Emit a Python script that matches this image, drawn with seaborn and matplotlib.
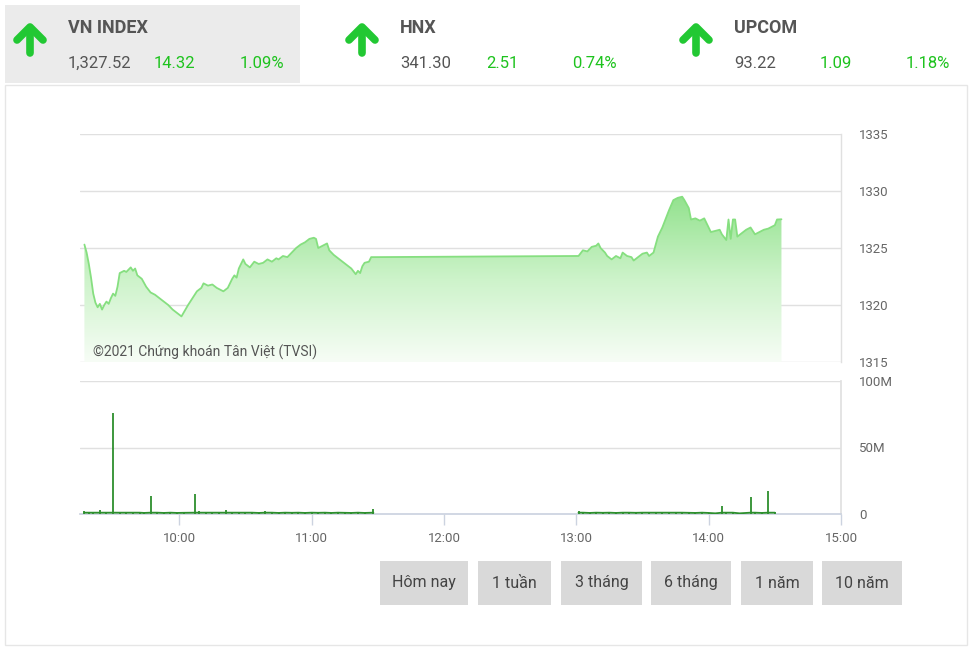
import numpy as np
import pandas as pd
import matplotlib
matplotlib.use("Agg")
import matplotlib.pyplot as plt
import seaborn as sns
from matplotlib.patches import Rectangle, Polygon
from matplotlib.lines import Line2D
from matplotlib.colors import LinearSegmentedColormap

# ---------------- data ----------------
index_names = ["VN INDEX", "HNX", "UPCOM"]
index_values = ["1,327.52", "341.30", "93.22"]
index_changes = ["14.32", "2.51", "1.09"]
index_pcts = ["1.09%", "0.74%", "1.18%"]

price_times = [
    "09:17", "09:18", "09:19", "09:20", "09:21", "09:22", "09:23", "09:24", "09:25", "09:26",
    "09:27", "09:28", "09:29", "09:30", "09:31", "09:32", "09:33", "09:35", "09:36", "09:38",
    "09:39", "09:40", "09:41", "09:43", "09:45", "09:47", "09:49", "09:51", "09:53", "09:55",
    "09:57", "09:59", "10:01", "10:04", "10:06", "10:08", "10:10", "10:11", "10:13", "10:15",
    "10:17", "10:19", "10:20", "10:22", "10:24", "10:25", "10:26", "10:27", "10:29", "10:30",
    "10:32", "10:34", "10:36", "10:38", "10:40", "10:42", "10:44", "10:45", "10:47", "10:49",
    "10:51", "10:53", "10:55", "10:57", "10:59", "11:01", "11:02", "11:03", "11:05", "11:07",
    "11:08", "11:10", "11:12", "11:14", "11:16", "11:18", "11:20", "11:21", "11:22", "11:23",
    "11:24", "11:26", "11:27", "11:29", "13:01", "13:03", "13:05", "13:07", "13:09", "13:10",
    "13:11", "13:13", "13:14", "13:16", "13:18", "13:20", "13:21", "13:23", "13:25", "13:26",
    "13:28", "13:30", "13:32", "13:33", "13:35", "13:36", "13:37", "13:39", "13:41", "13:42",
    "13:44", "13:46", "13:48", "13:49", "13:51", "13:52", "13:54", "13:56", "13:58", "14:00",
    "14:01", "14:03", "14:05", "14:06", "14:08", "14:09", "14:10", "14:11", "14:12", "14:13",
    "14:15", "14:17", "14:19", "14:21", "14:23", "14:25", "14:27", "14:29", "14:30", "14:31",
    "14:33",
]
price_values = [
    1325.3, 1324.6, 1323.6, 1322.4, 1321.0, 1320.2, 1319.8, 1320.1, 1319.6, 1320.0,
    1320.3, 1320.1, 1320.6, 1321.0, 1320.8, 1321.6, 1322.8, 1323.0, 1322.9, 1323.3,
    1323.0, 1323.2, 1322.6, 1322.3, 1321.6, 1321.1, 1320.9, 1320.6, 1320.3, 1320.0,
    1319.6, 1319.3, 1319.0, 1320.0, 1320.6, 1321.2, 1321.5, 1321.9, 1321.7, 1321.8,
    1321.5, 1321.3, 1321.2, 1321.5, 1322.3, 1322.6, 1322.4, 1323.2, 1324.0, 1323.6,
    1323.3, 1323.8, 1323.6, 1323.7, 1324.0, 1323.8, 1324.1, 1324.0, 1324.3, 1324.2,
    1324.6, 1325.0, 1325.3, 1325.5, 1325.8, 1325.9, 1325.8, 1325.0, 1325.2, 1325.4,
    1324.8, 1324.4, 1324.1, 1323.8, 1323.5, 1323.2, 1322.7, 1323.0, 1322.8, 1323.4,
    1323.7, 1323.8, 1324.2, 1324.2, 1324.3, 1324.8, 1324.7, 1325.1, 1325.2, 1325.4,
    1325.0, 1324.6, 1324.3, 1324.0, 1324.3, 1324.1, 1324.6, 1324.3, 1324.2, 1323.9,
    1324.2, 1324.5, 1324.6, 1324.3, 1324.6, 1325.3, 1326.0, 1326.8, 1327.8, 1328.3,
    1329.2, 1329.4, 1329.5, 1329.2, 1328.5, 1327.5, 1327.6, 1327.4, 1327.6, 1326.8,
    1326.4, 1326.5, 1326.6, 1326.2, 1325.7, 1327.5, 1325.8, 1327.5, 1327.5, 1326.0,
    1326.3, 1326.6, 1326.8, 1326.2, 1326.4, 1326.6, 1326.7, 1326.9, 1327.0, 1327.5,
    1327.52,
]

vol_times = [
    "09:17", "09:19", "09:21", "09:24", "09:27", "09:30", "09:33", "09:36", "09:39", "09:42",
    "09:44", "09:47", "09:50", "09:53", "09:56", "09:59", "10:02", "10:07", "10:09", "10:12",
    "10:15", "10:18", "10:21", "10:24", "10:27", "10:30", "10:33", "10:36", "10:39", "10:42",
    "10:45", "10:48", "10:51", "10:54", "10:57", "11:00", "11:03", "11:06", "11:09", "11:12",
    "11:15", "11:18", "11:21", "11:24", "11:28",
    "13:01", "13:03", "13:06", "13:09", "13:12", "13:15", "13:18", "13:21", "13:24", "13:27",
    "13:30", "13:33", "13:36", "13:39", "13:42", "13:45", "13:48", "13:51", "13:54", "13:57",
    "14:00", "14:03", "14:06", "14:08", "14:11", "14:14", "14:19", "14:21", "14:24", "14:27",
    "14:30",
]
vol_values = [  # millions of shares
    2.5, 1.5, 1.2, 3.0, 1.2, 76.0, 1.0, 1.2, 1.5, 1.0,
    0.8, 13.5, 1.2, 0.8, 1.0, 0.8, 0.9, 15.0, 2.5, 1.2,
    1.0, 1.5, 2.8, 1.2, 1.0, 1.0, 1.2, 0.8, 2.0, 1.0,
    0.8, 1.0, 0.9, 1.0, 0.8, 1.2, 0.9, 1.0, 0.8, 1.0,
    0.9, 0.8, 1.0, 0.8, 4.0,
    2.5, 1.2, 0.8, 1.0, 0.9, 1.0, 0.8, 1.0, 1.2, 0.9,
    1.0, 1.2, 1.5, 1.2, 1.5, 1.2, 1.0, 0.9, 0.8, 1.0,
    0.8, 0.5, 6.0, 1.5, 1.0, 0.5, 13.0, 1.5, 0.8, 17.5,
    1.5,
]

x_ticks = ["10:00", "11:00", "12:00", "13:00", "14:00", "15:00"]
x_range = ["09:15", "15:00"]
price_ticks = [1315, 1320, 1325, 1330, 1335]
vol_ticks = [0, 50, 100]
vol_tick_labels = ["0", "50M", "100M"]
buttons = ["Hôm nay", "1 tuần", "3 tháng", "6 tháng", "1 năm", "10 năm"]
watermark = "©2021 Chứng khoán Tân Việt (TVSI)"


def to_hours(lst):
    return (pd.to_timedelta(pd.Series(lst) + ":00").dt.total_seconds() / 3600.0).to_numpy()


# ---------------- style ----------------
sns.set_theme(style="white")
plt.rcParams["font.family"] = ["Roboto", "DejaVu Sans"]

W, H = 972, 650
fig = plt.figure(figsize=(W / 100, H / 100), dpi=100)
fig.patch.set_facecolor("white")


def fx(x):
    return x / W


def fy(y):
    return 1 - y / H


GREEN = "#1ec31e"
ARROW = "#22c833"
TXT = "#555555"
GRID = "#e0e0e0"
TICK = "#666666"

# outer frame and header box
fig.add_artist(Rectangle((fx(5), fy(645)), fx(962), 560 / H, transform=fig.transFigure,
                         facecolor="none", edgecolor="#e6e6e6", lw=1.0))
fig.add_artist(Rectangle((fx(5), fy(83)), fx(295), 78 / H, transform=fig.transFigure,
                         facecolor="#ebebeb", edgecolor="none"))

# header
header_x = [15, 347, 681]
for i, name in enumerate(index_names):
    x0 = header_x[i]
    cx = x0 + 15
    shaft = Line2D([fx(cx), fx(cx)], [fy(53), fy(28)], transform=fig.transFigure,
                   color=ARROW, lw=5.5, solid_capstyle="round")
    head = Line2D([fx(cx - 13), fx(cx), fx(cx + 13)], [fy(40), fy(27), fy(40)],
                  transform=fig.transFigure, color=ARROW, lw=5.5,
                  solid_capstyle="round", solid_joinstyle="round")
    fig.add_artist(shaft)
    fig.add_artist(head)
    tx = x0 + 53
    fig.text(fx(tx), fy(28), name, fontsize=13, fontweight="bold", color=TXT, va="center", ha="left")
    fig.text(fx(tx), fy(63), index_values[i], fontsize=12, color=TXT, va="center", ha="left")
    fig.text(fx(tx + 86), fy(63), index_changes[i], fontsize=12, color=GREEN, va="center", ha="left")
    fig.text(fx(tx + 172), fy(63), index_pcts[i], fontsize=12, color=GREEN, va="center", ha="left")

# ---------------- price axes ----------------
L, R = 80, 841
axp = fig.add_axes([fx(L), fy(362), (R - L) / W, (362 - 134) / H])
axv = fig.add_axes([fx(L), fy(514), (R - L) / W, (514 - 381) / H])

pt = to_hours(price_times)
pv = np.array(price_values)
xr = to_hours(x_range)
xt = to_hours(x_ticks)

pdf = pd.DataFrame({"t": pt, "p": pv})
line_color = "#86df80"
sns.lineplot(data=pdf, x="t", y="p", ax=axp, color=line_color, linewidth=1.3,
             estimator=None, sort=False, zorder=3)

# gradient fill under line
poly = [(pt[0], price_ticks[0])] + list(zip(pt, pv)) + [(pt[-1], price_ticks[0])]
patch = Polygon(poly, closed=True, facecolor="none", edgecolor="none")
axp.add_patch(patch)
cmap = LinearSegmentedColormap.from_list("g", ["#f7fdf6", "#cdf3ca", "#93e28e"])
grad = np.linspace(1, 0, 256).reshape(-1, 1)
im = axp.imshow(grad, aspect="auto", cmap=cmap, vmin=0, vmax=1,
                extent=[pt.min(), pt.max(), price_ticks[0], pv.max()], origin="upper", zorder=2)
im.set_clip_path(patch)

axp.set_xlim(xr[0], xr[1])
axp.set_ylim(price_ticks[0], price_ticks[-1])
axp.set_yticks(price_ticks)
axp.set_yticklabels([str(v) for v in price_ticks])
axp.yaxis.tick_right()
axp.tick_params(axis="y", length=0, pad=13, labelsize=9.5, labelcolor=TICK)
axp.set_xticks([])
axp.set_xlabel("")
axp.set_ylabel("")
for yv in price_ticks:
    axp.axhline(yv, color=GRID, lw=1.0, zorder=1)
for s in ["top", "left", "bottom"]:
    axp.spines[s].set_visible(False)
axp.spines["right"].set_color(GRID)
axp.spines["right"].set_linewidth(1.0)
axp.patch.set_alpha(0)

fig.text(fx(93), fy(352), watermark, fontsize=10, color="#555555", va="center", ha="left")

# ---------------- volume axes ----------------
vt = to_hours(vol_times)
vv = np.array(vol_values)
vol_color = "#2d8f2d"
axv.vlines(vt, 0, vv, color=vol_color, lw=1.3, zorder=3)
morning = vt < 12
for mask in [morning, ~morning]:
    sns.lineplot(x=vt[mask], y=np.minimum(vv[mask], 1.0), ax=axv, color=vol_color,
                 linewidth=1.3, estimator=None, sort=False, zorder=3)
axv.set_xlim(xr[0], xr[1])
axv.set_ylim(vol_ticks[0], vol_ticks[-1])
axv.set_yticks(vol_ticks)
axv.set_yticklabels(vol_tick_labels)
axv.yaxis.tick_right()
axv.tick_params(axis="y", length=0, pad=13, labelsize=9.5, labelcolor=TICK)
axv.set_xticks(xt)
axv.set_xticklabels(x_ticks)
axv.tick_params(axis="x", length=8, width=1, color="#ccd3e0", direction="out",
                labelsize=9.5, labelcolor=TICK, pad=5, bottom=True)
for yv in vol_ticks[1:]:
    axv.axhline(yv, color=GRID, lw=1.0, zorder=1)
for s in ["top", "left"]:
    axv.spines[s].set_visible(False)
axv.spines["right"].set_color(GRID)
axv.spines["bottom"].set_color("#ccd3e0")
axv.set_xlabel("")
axv.set_ylabel("")
axv.patch.set_alpha(0)

# ---------------- buttons ----------------
btn_x = [(380, 468), (478, 551), (561, 642), (651, 731), (741, 813), (822, 902)]
for (x0, x1), lab in zip(btn_x, buttons):
    fig.add_artist(Rectangle((fx(x0), fy(605)), (x1 - x0) / W, 44 / H, transform=fig.transFigure,
                             facecolor="#d9d9d9", edgecolor="none"))
    fig.text(fx((x0 + x1) / 2), fy(583), lab, fontsize=11.5, color="#444444", ha="center", va="center")

fig.savefig("out.png", dpi=100, facecolor="white")
